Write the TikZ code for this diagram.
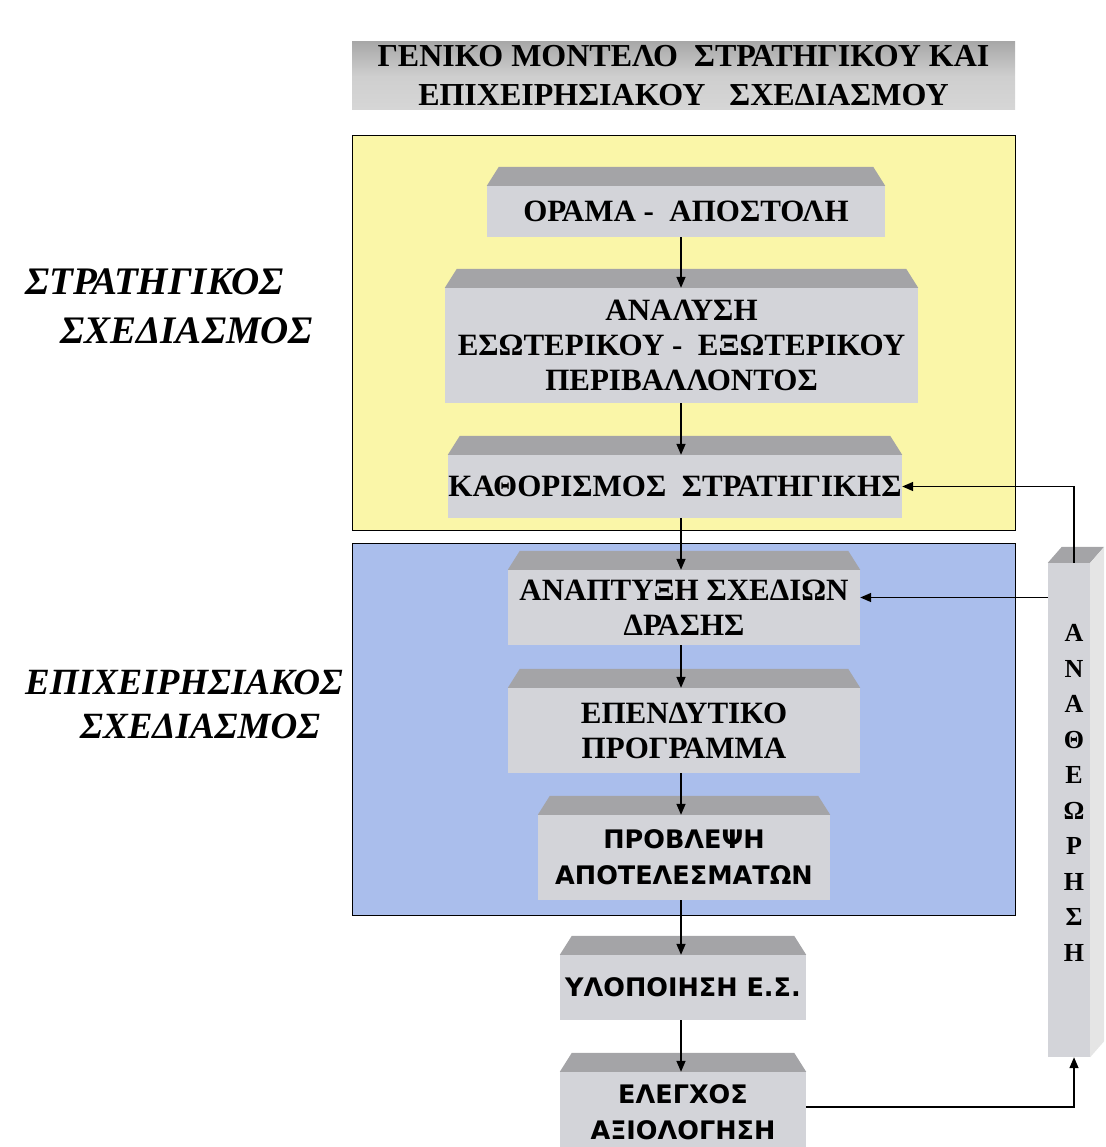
\documentclass[tikz,border=0pt]{standalone}
\usepackage{fontspec}
\setmainfont{Liberation Serif}
\newfontfamily\tahomalike{DejaVu Sans}
\usetikzlibrary{arrows.meta, positioning, calc}

\definecolor{paneyellow}{RGB}{250,246,168}
\definecolor{paneblue}{RGB}{170,190,236}
\definecolor{slabfront}{RGB}{211,212,217}
\definecolor{slabtop}{RGB}{164,164,167}

\begin{document}
\begin{tikzpicture}[
				x=1pt, y=-1pt,
				every node/.style={font=\bfseries},
				panel/.style={rectangle, draw, line width=1.4pt, anchor=north west},
				slab/.style={rectangle, fill=slabfront, align=center, inner sep=0pt, font=\fontsize{31}{35}\selectfont\bfseries},
				slabsans/.style={slab, font=\fontsize{25.5}{36}\selectfont\tahomalike\bfseries},
				bevel/.style={fill=slabtop},
				sidelabel/.style={align=left, anchor=west, inner sep=0pt},
				arrow/.style={line width=1.5pt, ->, >={Triangle[length=11pt,width=9pt]}}
				]
				\useasboundingbox (0,0) rectangle (1105,1147);
				\clip (0,0) rectangle (1105,1147);
				
				% Panels
				\node[panel, fill=paneyellow, minimum width=663pt, minimum height=395pt] (strategic) at (352,135) {};
				\node[panel, fill=paneblue, minimum width=663pt, minimum height=372pt] (operational) at (352,543) {};
				
				% Title
				\node[slab, top color=black!34, bottom color=black!16, middle color=black!19, minimum width=663pt, minimum height=68pt, font=\fontsize{32}{39}\selectfont\bfseries] (title) at (683.5,76) {ΓΕΝΙΚΟ ΜΟΝΤΕΛΟ~~ΣΤΡΑΤΗΓΙΚΟΥ ΚΑΙ\\ΕΠΙΧΕΙΡΗΣΙΑΚΟΥ~~~ΣΧΕΔΙΑΣΜΟΥ};
				
				% Side labels
				\node[sidelabel, font=\fontsize{39}{49}\selectfont\bfseries\itshape] (stratlabel) at (25,306) {ΣΤΡΑΤΗΓΙΚΟΣ\\\hspace*{35pt}ΣΧΕΔΙΑΣΜΟΣ};
				\node[sidelabel, font=\fontsize{37}{44}\selectfont\bfseries\itshape] (oplabel) at (25,704) {ΕΠΙΧΕΙΡΗΣΙΑΚΟΣ\\\hspace*{55pt}ΣΧΕΔΙΑΣΜΟΣ};
				
				% Steps
				\node[slab, minimum width=398pt, minimum height=51pt] (vision) at (686,211.5) {ΟΡΑΜΑ -~~ΑΠΟΣΤΟΛΗ};
				\node[slab, minimum width=473pt, minimum height=115pt] (analysis) at (681.5,345.5) {ΑΝΑΛΥΣΗ\\ΕΣΩΤΕΡΙΚΟΥ -~~ΕΞΩΤΕΡΙΚΟΥ\\ΠΕΡΙΒΑΛΛΟΝΤΟΣ};
				\node[slab, minimum width=454pt, minimum height=63pt] (strategy) at (675,486.5) {ΚΑΘΟΡΙΣΜΟΣ~~ΣΤΡΑΤΗΓΙΚΗΣ};
				\node[slab, minimum width=352pt, minimum height=75pt] (plans) at (684,607.5) {ΑΝΑΠΤΥΞΗ ΣΧΕΔΙΩΝ\\ΔΡΑΣΗΣ};
				\node[slab, minimum width=352pt, minimum height=85pt] (invest) at (684,730.5) {ΕΠΕΝΔΥΤΙΚΟ\\ΠΡΟΓΡΑΜΜΑ};
				\node[slabsans, minimum width=292pt, minimum height=85pt] (forecast) at (684,857.5) {ΠΡΟΒΛΕΨΗ\\ΑΠΟΤΕΛΕΣΜΑΤΩΝ};
				\node[slabsans, minimum width=246pt, minimum height=65pt] (implement) at (683,987.5) {ΥΛΟΠΟΙΗΣΗ Ε.Σ.};
				\node[slabsans, minimum width=246pt, minimum height=80pt] (control) at (683,1112) {ΕΛΕΓΧΟΣ\\ΑΞΙΟΛΟΓΗΣΗ};
				\fill[slabfront] (control.south west) rectangle ([yshift=-20pt]control.south east);
				
				% Feedback bar
				\node[slab, minimum width=42pt, minimum height=494pt,
				label={[font=\fontsize{26}{35.5}\selectfont\bfseries, align=center, xshift=5pt, yshift=17pt]center:Α\\Ν\\Α\\Θ\\Ε\\Ω\\Ρ\\Η\\Σ\\Η}] (review) at (1069,810) {};
				
				% Top faces
				\foreach \n in {vision,analysis,strategy,plans,invest,forecast,implement,control}
				\fill[bevel] (\n.north west) -- ([xshift=12pt,yshift=19pt]\n.north west) -- ([xshift=-12pt,yshift=19pt]\n.north east) -- (\n.north east) -- cycle;
				\fill[bevel] (review.north west) -- ([xshift=14pt,yshift=16pt]review.north west) -- ([xshift=14pt,yshift=16pt]review.north east) -- (review.north east) -- cycle;
				\fill[black!10] (review.north east) -- ([xshift=14pt,yshift=16pt]review.north east) -- ([xshift=14pt,yshift=16pt]review.south east) -- (review.south east) -- cycle;
				
				% Arrows
				\coordinate (spine) at (681,0);
				\draw[arrow] (vision.south -| spine) -- (analysis.north -| spine);
				\draw[arrow] (analysis.south -| spine) -- (strategy.north -| spine);
				\draw[arrow] (strategy.south -| spine) -- (plans.north -| spine);
				\draw[arrow] (plans.south -| spine) -- (invest.north -| spine);
				\draw[arrow] (invest.south -| spine) -- (forecast.north -| spine);
				\draw[arrow] (forecast.south -| spine) -- (implement.north -| spine);
				\draw[arrow] (implement.south -| spine) -- (control.north -| spine);
				
				% Feedback
				\coordinate (plans in) at ([yshift=10pt]plans.east);
				\draw[arrow] ([yshift=5pt]control.east) -| ([xshift=5pt]review.south);
				\draw[arrow] ([xshift=5pt]review.north) |- (strategy.east);
				\draw[arrow] (plans in -| review.west) -- (plans in);
			\end{tikzpicture}
\end{document}
